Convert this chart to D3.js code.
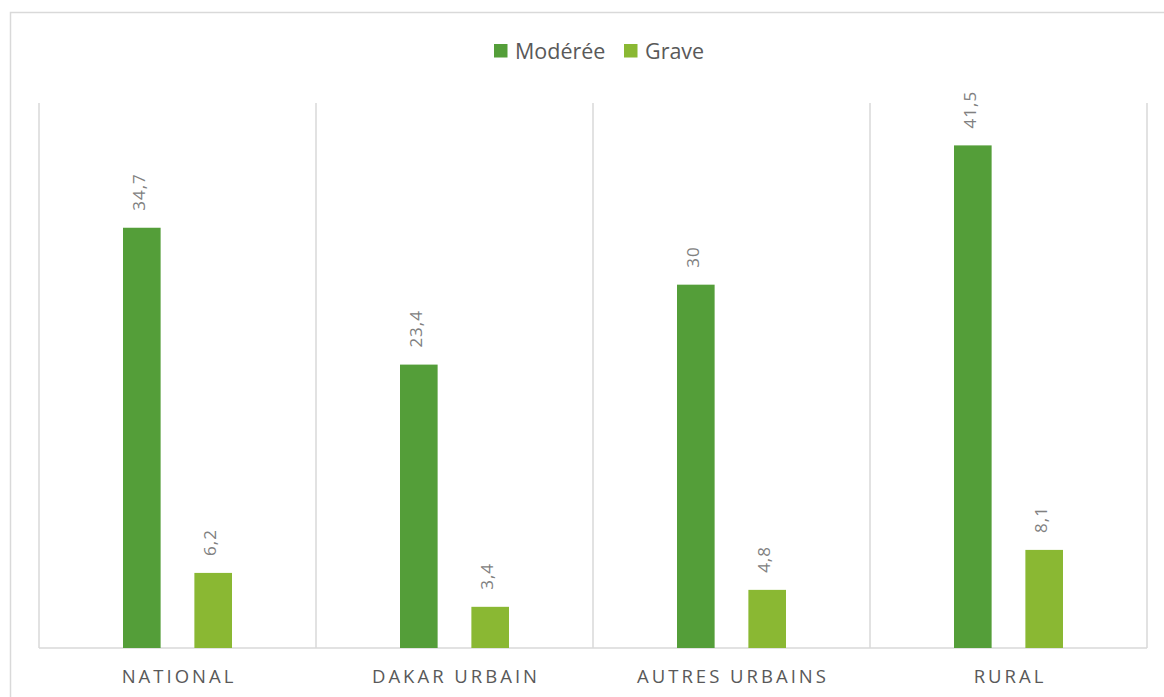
<!DOCTYPE html>
<html>
<head>
<meta charset="utf-8">
<script src="https://cdn.jsdelivr.net/npm/d3@7"></script>
<style>
  body { margin: 0; background: #fff; }
  svg { font-family: "Open Sans", sans-serif; }
</style>
</head>
<body>
<div id="chart"></div>
<script>
const categories = ['NATIONAL', 'DAKAR URBAIN', 'AUTRES URBAINS', 'RURAL'];
const seriesNames = ['Modérée', 'Grave'];
const moderee = [34.7, 23.4, 30, 41.5];
const grave = [6.2, 3.4, 4.8, 8.1];
const colors = ['#549e39', '#8ab833'];

const W = 1164, H = 697;
const plot = { left: 39, right: 1147, top: 103, bottom: 648 };

const svg = d3.select('#chart').append('svg').attr('width', W).attr('height', H);

// chart frame
svg.append('rect')
  .attr('x', 10.5).attr('y', 12.5)
  .attr('width', W + 20).attr('height', H + 20)
  .attr('fill', 'none').attr('stroke', '#d9d9d9').attr('stroke-width', 1.5);

const x = d3.scaleBand().domain(categories).range([plot.left, plot.right]).padding(0);
const y = d3.scaleLinear().domain([0, 45]).range([plot.bottom, plot.top]);
const inner = d3.scaleBand().domain(seriesNames).range([84, 84 + 37 + 35 + 37]).paddingInner(35 / 74);

// category separators
svg.selectAll('.sep')
  .data(categories.concat(['end']))
  .enter().append('line')
  .attr('x1', (d, i) => i < categories.length ? x(d) : plot.right)
  .attr('x2', (d, i) => i < categories.length ? x(d) : plot.right)
  .attr('y1', plot.top).attr('y2', plot.bottom)
  .attr('stroke', '#d9d9d9').attr('stroke-width', 1.5);

// bottom axis line
svg.append('line')
  .attr('x1', plot.left).attr('x2', plot.right)
  .attr('y1', plot.bottom).attr('y2', plot.bottom)
  .attr('stroke', '#d9d9d9').attr('stroke-width', 1.5);

const rows = [];
categories.forEach((c, i) => {
  rows.push({ cat: c, s: seriesNames[0], v: moderee[i], color: colors[0] });
  rows.push({ cat: c, s: seriesNames[1], v: grave[i], color: colors[1] });
});

svg.selectAll('.bar')
  .data(rows)
  .enter().append('rect')
  .attr('class', 'bar')
  .attr('x', d => x(d.cat) + inner(d.s))
  .attr('y', d => y(d.v))
  .attr('width', inner.bandwidth())
  .attr('height', d => y(0) - y(d.v))
  .attr('fill', d => d.color);

// value labels (rotated)
svg.selectAll('.val')
  .data(rows)
  .enter().append('text')
  .attr('transform', d => `translate(${x(d.cat) + inner(d.s) + inner.bandwidth() / 2 + 3},${y(d.v) - 17}) rotate(-90)`)
  .attr('text-anchor', 'start')
  .attr('fill', '#808080')
  .attr('font-size', 17)
  .attr('letter-spacing', '1px')
  .text(d => String(d.v).replace('.', ','));

// category labels
svg.selectAll('.cat')
  .data(categories)
  .enter().append('text')
  .attr('x', d => x(d) + x.bandwidth() / 2 + 1.5)
  .attr('y', 683)
  .attr('text-anchor', 'middle')
  .attr('fill', '#595959')
  .attr('font-size', 18.5)
  .attr('letter-spacing', '3px')
  .text(d => d);

// legend
const legend = svg.append('g');
const legendItems = [
  { name: seriesNames[0], color: colors[0], x: 494 },
  { name: seriesNames[1], color: colors[1], x: 624 }
];
legendItems.forEach(it => {
  legend.append('rect').attr('x', it.x).attr('y', 44).attr('width', 13.5).attr('height', 13.5).attr('fill', it.color);
  legend.append('text').attr('x', it.x + 21).attr('y', 58.5)
    .attr('fill', '#595959').attr('font-size', 21.5).text(it.name);
});
</script>
</body>
</html>
